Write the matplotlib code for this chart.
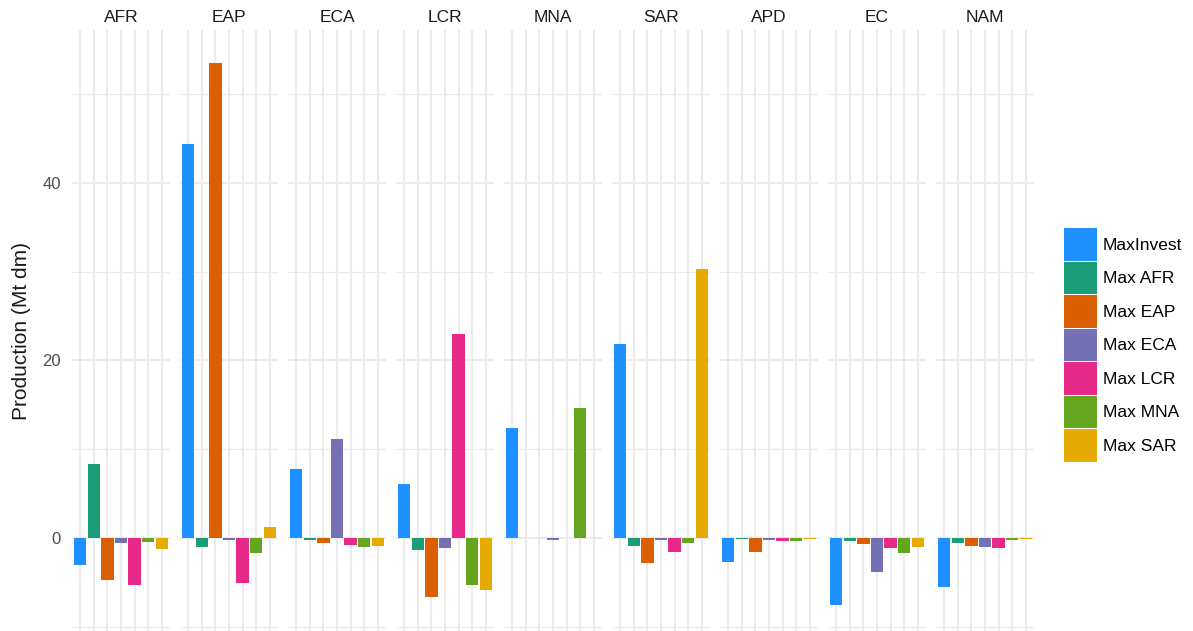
import matplotlib
matplotlib.use("Agg")
import matplotlib.pyplot as plt
from matplotlib.patches import Patch

plt.rcParams['font.family'] = ['Liberation Sans', 'DejaVu Sans']

regions = ["AFR", "EAP", "ECA", "LCR", "MNA", "SAR", "APD", "EC", "NAM"]
scenarios = ["MaxInvest", "Max AFR", "Max EAP", "Max ECA", "Max LCR", "Max MNA", "Max SAR"]
colors = ["#1E90FF", "#1B9E77", "#D95F02", "#7570B3", "#E7298A", "#66A61E", "#E6AB02"]

# production change per region (rows) and scenario (columns), Mt dm
values = {
    "AFR": [-3.0, 8.3, -4.75, -0.6, -5.3, -0.5, -1.27],
    "EAP": [44.4, -1.0, 53.5, -0.27, -5.07, -1.67, 1.27],
    "ECA": [7.83, -0.27, -0.54, 11.2, -0.77, -1.0, -0.95],
    "LCR": [6.05, -1.3, -6.6, -1.1, 23.0, -5.26, -5.86],
    "MNA": [12.44, -0.05, -0.03, -0.26, -0.05, 14.6, 0.05],
    "SAR": [21.9, -0.94, -2.86, -0.23, -1.6, -0.6, 30.3],
    "APD": [-2.74, -0.12, -1.6, -0.23, -0.34, -0.3, -0.1],
    "EC": [-7.55, -0.34, -0.64, -3.83, -1.1, -1.65, -1.0],
    "NAM": [-5.56, -0.53, -0.94, -1.05, -1.17, -0.23, -0.08],
}

W, H = 1193, 631
fig = plt.figure(figsize=(W / 100, H / 100), dpi=100)

grid_col = "#EBEBEB"
x = list(range(len(scenarios)))
for i, reg in enumerate(regions):
    left = 72 + i * 108
    ax = fig.add_axes([left / W, 0, 98 / W, (H - 30) / H])
    ax.set_xlim(-0.6, 6.6)
    ax.set_ylim(-10.48, 57.24)
    for v in [-10, 10, 30, 50]:
        ax.axhline(v, color=grid_col, lw=0.8, zorder=0)
    for v in [0, 20, 40]:
        ax.axhline(v, color=grid_col, lw=1.5, zorder=0)
    for xx in x:
        ax.axvline(xx, color=grid_col, lw=1.5, zorder=0)
    ax.bar(x, values[reg], width=0.9, color=colors, zorder=2)
    for s in ax.spines.values():
        s.set_visible(False)
    ax.set_xticks([])
    ax.set_title(reg, fontsize=12.5, color="#1A1A1A", pad=6)
    if i == 0:
        ax.set_yticks([0, 20, 40])
        ax.tick_params(axis="y", length=0, labelsize=12, labelcolor="#4D4D4D", pad=8)
        ax.set_ylabel("Production (Mt dm)", fontsize=15, color="#1A1A1A", labelpad=8)
    else:
        ax.set_yticks([])

handles = [Patch(facecolor=c, edgecolor="none", label=s) for c, s in zip(colors, scenarios)]
fig.legend(handles=handles, loc="center left", bbox_to_anchor=(1064 / W, (H - 345) / H),
           frameon=False, fontsize=12.5, handlelength=1.9, handleheight=2.5,
           labelspacing=0.06, handletextpad=0.35, borderaxespad=0, borderpad=0)

fig.savefig("out.png", dpi=100)
